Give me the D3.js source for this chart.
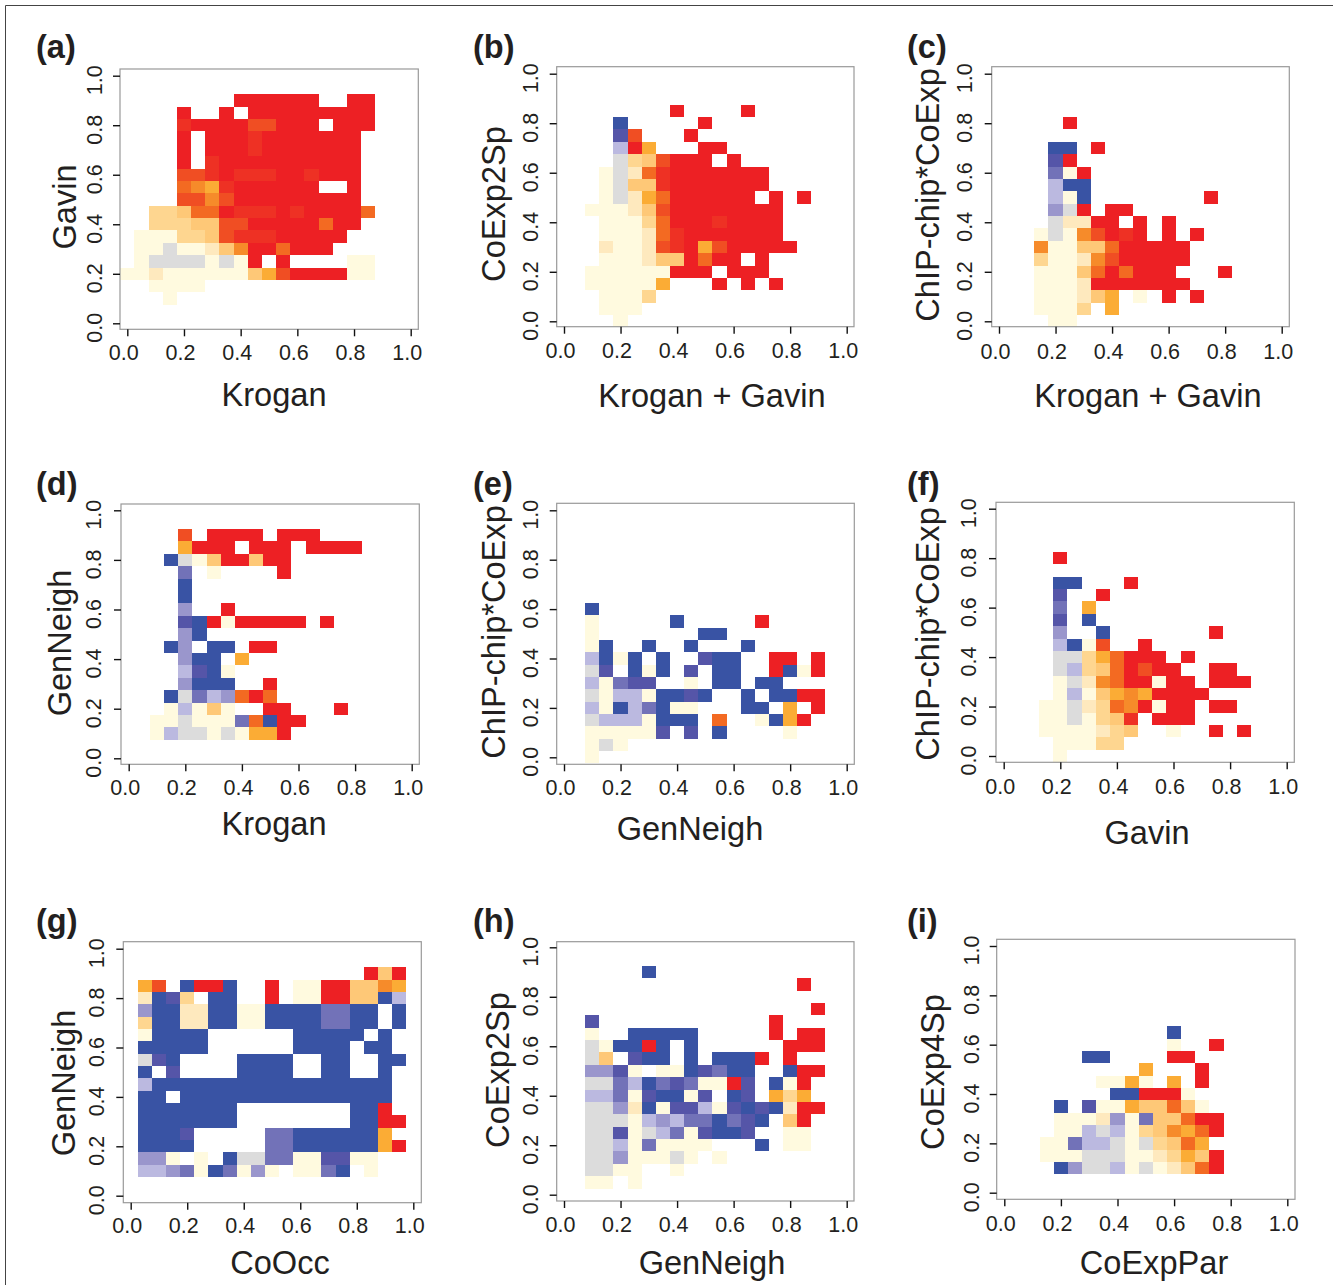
<!DOCTYPE html>
<html><head><meta charset="utf-8">
<script src="https://cdn.jsdelivr.net/npm/d3@7/dist/d3.min.js"></script>
<style>html,body{margin:0;padding:0;background:#fff}svg{display:block}text{font-family:"Liberation Sans",Arial,sans-serif;fill:#231f20}</style>
</head><body><svg id="c" width="1333" height="1285"></svg>
<script>
// Each string is one row from y=1.0 (top) down to y=0.0, one char per x bin (0.00..1.00 in 0.05 steps).
const levels = ["a","b","c","d","e","g","y","1","2","3","4","5","6","7","8","9"];
const levelColors = ["#3953a4","#5555a8","#7272b8","#9a96cc","#bbb9e0","#dcdcdc","#fffadf","#fee9be","#fed690","#fec877","#fbac35","#f68b2a","#f36a22","#f04e23","#ee3124","#ed2024"];
const binStep = 0.05;
const tickValues = [0,0.2,0.4,0.6,0.8,1.0];

const cellsA = [".....................",".....................",
"........999999..99...","....9..9.999999999...","....8999977999.999...",
"....9.99989999999....","....9.99989999999....","....9.89999999999....","....7789888998999....","....6548999999..9....","....7757999999999....",
"..2236698889899996...","..222337799999699....",".yyy223788899999.....",".yygyy135996999......",
".yggggygy9.9....yy...","yy1yyyyyy3479999yy...","..yyyy...............","...y.................",".....................","....................."];
const cellsB = [".....................",".....................",".....................",
"........9....9.......","....a.....9..........","....b7...9...........","....e94...99.........","....g237999.9........","...yg1689999999......","...yg3389999999......",
"...yg146999999.9.9...","..yyy13799999999.....","...yyy2699989999.....","...yyy1689999999.....","...1yy17894799999....","...yyy1339699.9......",
"..yyyyyy999.999......","..yyyyy4...9.9.9.....","...yyy2..............","...yyy...............","....y................"];
const cellsC = [".....................",".....................",".....................",".....................",
".....9...............",".....................","....aa.9.............","....b9...............","....cy9..............","....eaa..............",
"....eya........9.....","....dg9.99...........","....g1199.9.9........","...ygy57989.9.9......","...5yy33699999.......","...2yy15799999.......",
"...yyy3696999...9....","...yyy19999999.......","...yyy134.y.9.9......","...yyy2.4............","....yy..............."];
const cellsD = [".....................",".....................",
"....7.9999.999.......","....4999.999.9999....","...agy399399.........","....c.y....9.........","....a................","....a................","....d..9.............","....ba9y99999.9......",
"....da...............","...ad.aa.99..........","....daa.4............","....ebay.............","....daaa..9..........","...agced696..........",
"...yey3y..99...9.....","..yygyyyc6a99........","..yeggygy449.........",".....................","....................."];
const cellsE = [".....................",".....................",".....................",".....................",".....................",".....................",".....................",".....................",
"..a..................","..y.....a.....9......","..y.......aa.........","..ya..a..a...a.......","..eaya.a..baa..99.9..","..gb.aya.b.aa..9ay9..","..eycbb..y.aa.aa.....","..gyeeyaaba..a.aa99..",
"..eyaecayy...aa.4.9..","..geeeyaaa.6..ya49...","..yyyyyb.b.a....y....","..ygy................","..y.................."];
const cellsF = [".....................",".....................",".....................",".....................",
"....9................",".....................","....aa...9...........","....b..9.............","....c.4..............","....b.a..............",
"....d..a.......9.....","....eay7..9..........","....gg246999.9.......","....ge2369799..99....","....yg15699y99.999...","....yey34549999......",
"...yyg12659y99.99....","...yygy238.999.......","...yyyy123..y..9.9...","....yyy22............","....y................"];
const cellsG = [".....................",".....................",
".................939.",".47.a99a..9.yy993354.",".1ab2.aa..9.yy9933ae.",".daa11aayyaaaaccaa.a.",".2aa11aayyaaaaccaa.a.",".yaaaa......aaaaa.a..",".aaaaa......aaaa.aa..",".gba....aaaa..aa..aa.",
".a.b....aaaa..aa..a..",".eaaaaaaaaaaaaaaaaa..",".aa.aaaaaaaaaaaaaaa..",".aaaaaaa........aa9..",".aaaaaaa........aa99.",".aaab.....ccaaaaaa4..",
".aaaa.....ccaaaaaa49.",".ddy.y.aggccyybbyy...",".eedcyacydy.yyca.y...",".....................","....................."];
const cellsH = [".....................",".....................",
"......a..............",".................9...",".....................","..................9..","..b............9.....","..y..aaaaa.....9.99..","..gyaa9a.a......999..","..g3.baa.a.aaa9.9....",
"..ddby.yyabcaa..a99..","..ggceacbcyy9b.ay9...","..eecybaayb.ab.424...","..ggd1aybbeybaba199..","..gggyedeccacba.39...","..ggbygecybaab..yy...",
"..ggeycyyyy...a.yy...","..ggdyyygy.y.........","..ggyy..y............","..yy.y...............","....................."];
const cellsI = [".....................",".....................",".....................",".....................",".....................",".....................",".....................",
"............a........","............y..9.....","......aa....99.......",
"..........4...9......",".......yy4y.4.9......","........aa999y.......","....a.byy43363y......","....yyy1dyc33699.....","....yyegey235469.....",
"...yyceegyg2364......","...yyygggyy12439.....","....adggeygy1369.....",".....................","....................."];
const xTitles = ["Krogan","Krogan + Gavin","Krogan + Gavin","Krogan","GenNeigh","Gavin","CoOcc","GenNeigh","CoExpPar"];
const yTitles = ["Gavin","CoExp2Sp","ChIP-chip*CoExp","GenNeigh","ChIP-chip*CoExp","ChIP-chip*CoExp","GenNeigh","CoExp2Sp","CoExp4Sp"];
const tags = ["(a)","(b)","(c)","(d)","(e)","(f)","(g)","(h)","(i)"];
const allCells = [cellsA,cellsB,cellsC,cellsD,cellsE,cellsF,cellsG,cellsH,cellsI];

// layout: box [l,r,t,b], x tick pixel range, y tick pixel range, label anchors
const layout = [
 {box:[120,418.3,69,329.3],xr:[127.3,410.7],yr:[323.3,75.7],xLab:360,yLab:102,xt:[274,406],yt:[207,76],tag:[36,58]},
 {box:[556.7,854,66.7,326.7],xr:[564,846.7],yr:[321.3,73.7],xLab:358,yLab:538,xt:[712,407],yt:[204,505],tag:[473,58]},
 {box:[991.7,1289.3,66.7,326.7],xr:[999,1281.7],yr:[321.3,73.7],xLab:359,yLab:972,xt:[1148,407],yt:[195,939],tag:[907,58]},
 {box:[121,419.3,504,764.3],xr:[128.7,411.7],yr:[758.3,510.3],xLab:795,yLab:101,xt:[274,835],yt:[643,71],tag:[36,495]},
 {box:[556.7,854.3,503.3,764.3],xr:[564,846.7],yr:[757.3,510.3],xLab:795,yLab:538,xt:[690,840],yt:[632,505],tag:[473,495]},
 {box:[996,1294.3,502.3,762.3],xr:[1003.7,1286.7],yr:[756,508.7],xLab:794,yLab:976,xt:[1147,844],yt:[634,939],tag:[907,495]},
 {box:[123.3,421.3,941.7,1202.7],xr:[130.7,413.3],yr:[1195.7,948.7],xLab:1233,yLab:104,xt:[280,1274],yt:[1083,75],tag:[36,932]},
 {box:[556.7,854,941.7,1201],xr:[564,846.7],yr:[1194.7,947.3],xLab:1232,yLab:538,xt:[712,1274],yt:[1070,509],tag:[473,932]},
 {box:[996.7,1295,939.3,1199.3],xr:[1004.3,1287.3],yr:[1192.7,946],xLab:1231,yLab:979,xt:[1154,1274],yt:[1072,944],tag:[907,932]}
];

const svg = d3.select("#c");
svg.append("path").attr("d","M5.5,1285V5.5H1333").attr("fill","none").attr("stroke","#444").attr("stroke-width",1);
const color = d3.scaleOrdinal(levels, levelColors);
const fmt = d3.format(".1f");

allCells.forEach((rows,p)=>{
  const L = layout[p];
  const x = d3.scaleLinear().domain([0,1]).range(L.xr);
  const y = d3.scaleLinear().domain([0,1]).range(L.yr);
  const g = svg.append("g");
  const cells = [];
  rows.forEach((row,i)=>{ [...row].forEach((c,j)=>{ if(c!==".") cells.push({xv:j*binStep,yv:1-i*binStep,c}); }); });
  g.selectAll("rect.cell").data(cells).join("rect").attr("class","cell")
    .attr("x",d=>x(d.xv-binStep/2)).attr("width",x(binStep)-x(0))
    .attr("y",d=>y(d.yv+binStep/2)).attr("height",y(0)-y(binStep))
    .attr("fill",d=>color(d.c)).attr("shape-rendering","crispEdges");
  g.append("rect").attr("x",L.box[0]).attr("y",L.box[2]).attr("width",L.box[1]-L.box[0]).attr("height",L.box[3]-L.box[2])
    .attr("fill","none").attr("stroke","#999").attr("stroke-width",1.2);
  const ax = g.append("g").attr("transform",`translate(0,${L.box[3]})`)
    .call(d3.axisBottom(x).tickValues(tickValues).tickFormat(fmt).tickSize(7).tickSizeOuter(0));
  ax.select(".domain").remove();
  ax.selectAll("line").attr("stroke","#111").attr("stroke-width",1.4);
  ax.selectAll("text").attr("x",-4).attr("y",L.xLab-L.box[3]).attr("dy",0).attr("text-anchor","middle").style("font-size","21.5px").attr("fill","#231f20");
  const ay = g.append("g").attr("transform",`translate(${L.box[0]},0)`)
    .call(d3.axisLeft(y).tickValues(tickValues).tickFormat(fmt).tickSize(7).tickSizeOuter(0));
  ay.select(".domain").remove();
  ay.selectAll("line").attr("stroke","#111").attr("stroke-width",1.4);
  ay.selectAll("text").attr("x",0).attr("y",0).attr("dy",0).attr("text-anchor","middle")
    .attr("transform",`translate(${L.yLab-L.box[0]},4) rotate(-90)`).style("font-size","21.5px").attr("fill","#231f20");
  g.append("text").attr("x",L.xt[0]).attr("y",L.xt[1]).attr("text-anchor","middle").style("font-size","32.6px").text(xTitles[p]);
  g.append("text").attr("transform",`translate(${L.yt[1]},${L.yt[0]}) rotate(-90)`).attr("text-anchor","middle").style("font-size","32.6px").text(yTitles[p]);
  g.append("text").attr("x",L.tag[0]).attr("y",L.tag[1]).style("font-size","32.5px").style("font-weight","bold").text(tags[p]);
});
</script></body></html>
